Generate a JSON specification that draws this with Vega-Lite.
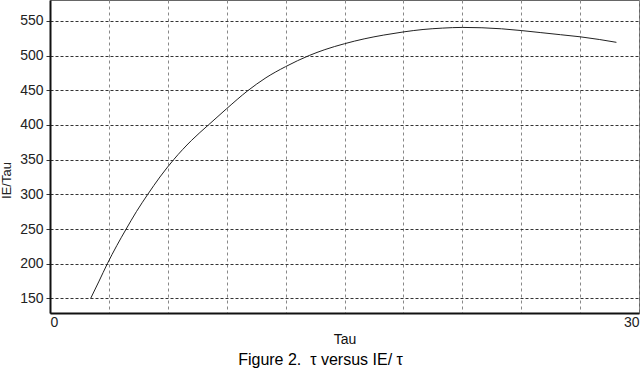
{
  "$schema": "https://vega.github.io/schema/vega-lite/v6.json",
  "width": 589,
  "height": 313,
  "autosize": {"type": "none"},
  "padding": {"left": 50, "top": 0, "right": 1, "bottom": 57},
  "background": "white",
  "config": {
    "view": {"stroke": "#666", "strokeWidth": 1},
    "font": "Liberation Sans"
  },
  "title": {
    "text": "Figure 2.\u00a0 τ versus IE/\u00a0τ",
    "orient": "bottom",
    "anchor": "middle",
    "offset": 6,
    "fontSize": 16,
    "fontWeight": "normal",
    "font": "Liberation Sans",
    "color": "#000",
    "dx": -24
  },
  "data": {
    "values": [
      {"tau": 2.07, "ie": 150},
      {"tau": 2.5, "ie": 175},
      {"tau": 2.92, "ie": 200},
      {"tau": 3.4, "ie": 226},
      {"tau": 3.88, "ie": 250},
      {"tau": 4.4, "ie": 275},
      {"tau": 4.98, "ie": 300},
      {"tau": 5.6, "ie": 325},
      {"tau": 6.3, "ie": 350},
      {"tau": 7.2, "ie": 377.5},
      {"tau": 8.07, "ie": 400},
      {"tau": 9.0, "ie": 423.5},
      {"tau": 10.06, "ie": 449},
      {"tau": 11.0, "ie": 468},
      {"tau": 12.0, "ie": 484},
      {"tau": 13.2, "ie": 500},
      {"tau": 14.0, "ie": 508.5},
      {"tau": 15.0, "ie": 517},
      {"tau": 16.0, "ie": 524},
      {"tau": 17.0, "ie": 529.5},
      {"tau": 18.0, "ie": 534},
      {"tau": 19.0, "ie": 537.5},
      {"tau": 20.0, "ie": 539.5},
      {"tau": 21.0, "ie": 540.5},
      {"tau": 22.0, "ie": 540},
      {"tau": 23.0, "ie": 538.5},
      {"tau": 24.0, "ie": 536},
      {"tau": 25.0, "ie": 533},
      {"tau": 26.0, "ie": 530},
      {"tau": 27.0, "ie": 527},
      {"tau": 28.0, "ie": 523},
      {"tau": 28.85, "ie": 519}
    ]
  },
  "mark": {"type": "line", "color": "#222", "strokeWidth": 1, "interpolate": "monotone"},
  "encoding": {
    "x": {
      "field": "tau",
      "type": "quantitative",
      "scale": {"domain": [0, 30], "nice": false, "zero": false},
      "axis": {
        "title": "Tau",
        "titleFont": "Liberation Sans",
        "titleFontSize": 14,
        "titleFontWeight": "normal",
        "titleColor": "#111",
        "titlePadding": 3,
        "values": [0, 3, 6, 9, 12, 15, 18, 21, 24, 27, 30],
        "labelExpr": "datum.value == 0 || datum.value == 30 ? datum.label : ''",
        "labelFlush": true,
        "labelFont": "Liberation Sans",
        "labelFontSize": 14,
        "labelColor": "#222",
        "labelPadding": 2,
        "ticks": false,
        "domainColor": "#111",
        "domainWidth": 2,
        "grid": true,
        "gridColor": "#888",
        "gridDash": [3, 3],
        "gridWidth": 1
      }
    },
    "y": {
      "field": "ie",
      "type": "quantitative",
      "scale": {"domain": [129, 580], "nice": false, "zero": false},
      "axis": {
        "title": "IE/Tau",
        "titleFont": "Liberation Sans",
        "titleFontSize": 13,
        "titleFontWeight": "normal",
        "titleColor": "#222",
        "titleX": -37,
        "titleY": 180,
        "values": [150, 200, 250, 300, 350, 400, 450, 500, 550],
        "labelFont": "Liberation Sans",
        "labelFontSize": 14,
        "labelColor": "#222",
        "labelPadding": 3,
        "ticks": true,
        "tickSize": 4,
        "tickColor": "#333",
        "domainColor": "#111",
        "domainWidth": 2,
        "grid": true,
        "gridColor": "#333",
        "gridDash": [3, 2],
        "gridWidth": 1
      }
    }
  }
}
